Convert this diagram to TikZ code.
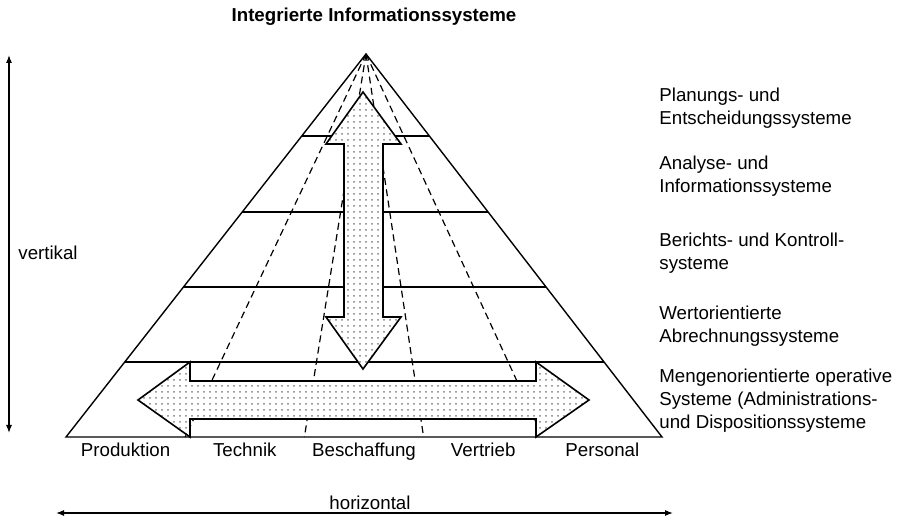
\documentclass[tikz,border=0pt]{standalone}
\usepackage{fontspec}
\setmainfont{Liberation Sans}
\usetikzlibrary{positioning,arrows.meta,calc,patterns}
\tikzset{
  txt/.style={inner sep=0pt, font=\fontsize{9.35}{11.5}\selectfont},
  lvl/.style={txt, anchor=west, align=left},
  col/.style={txt, anchor=base},
  edge/.style={line width=0.7pt},
  divider/.style={line width=0.6pt, dash pattern=on 3.5pt off 2.2pt},
  bigarrow/.style={line width=0.8pt, preaction={fill=white},
                   pattern=dots, pattern color=black!50},
  axis/.style={{Latex[length=4pt,width=3pt]}-{Latex[length=4pt,width=3pt]}, line width=0.6pt},
}

\begin{document}
\begin{tikzpicture}[x=0.5pt, y=-0.5pt]
  \useasboundingbox (0,0) rectangle (902,518);
  \coordinate (top) at (366,54);
  \coordinate (bl) at (66,437);
  \coordinate (br) at (662,437);
  % sectors
  \foreach \f in {0.2,0.4,0.6,0.8}
    \draw[divider] (top) -- ($(bl)!\f!(br)$);
  % levels
  \foreach \t in {0.214,0.413,0.608,0.804}
    \draw[edge] ($(top)!\t!(bl)$) -- ($(top)!\t!(br)$);
  \draw[edge] (top) -- (bl) -- (br) -- cycle;
  % vertical + horizontal integration
  \draw[bigarrow] (363,92) -- (401,144) -- (383,144) -- (383,317) -- (401,317)
    -- (363,369) -- (326,317) -- (344,317) -- (344,144) -- (326,144) -- cycle;
  \draw[bigarrow] (138,400) -- (190,362) -- (190,381) -- (536,381) -- (536,362)
    -- (589,400) -- (536,437) -- (536,419) -- (190,419) -- (190,437) -- cycle;

  \node[txt, font=\fontsize{9.35}{11.5}\selectfont\bfseries] (title) at (374,17)
    {Integrierte Informationssysteme};

  \node[lvl] (plan) at (659,108) {Planungs- und\\Entscheidungssysteme};
  \node[lvl] (anal) at (659,176) {Analyse- und\\Informationssysteme};
  \node[lvl] (ber) at (659,253) {Berichts- und Kontroll-\\systeme};
  \node[lvl] (wert) at (659,326) {Wertorientierte\\Abrechnungssysteme};
  \node[lvl] (meng) at (659,401) {Mengenorientierte operative\\Systeme (Administrations-\\und Dispositionssysteme};

  \node[col] (prod) at ($(bl)!0.1!(br)+(0,20)$) {Produktion};
  \node[col] (tech) at ($(bl)!0.3!(br)+(0,20)$) {Technik};
  \node[col] (besch) at ($(bl)!0.5!(br)+(0,20)$) {Beschaffung};
  \node[col] (vert) at ($(bl)!0.7!(br)+(0,20)$) {Vertrieb};
  \node[col] (pers) at ($(bl)!0.9!(br)+(0,20)$) {Personal};

  % axes
  \coordinate (vtop) at (9,55);
  \coordinate (vbot) at (9,433);
  \coordinate (hl) at (56,513);
  \coordinate (hr) at (673,513);
  \draw[axis] (vtop) -- (vbot);
  \draw[axis] (hl) -- (hr);
  \node[txt, anchor=west] (vlab) at (18,253) {vertikal};
  \node[txt, anchor=base] (hlab) at (370,510) {horizontal};
\end{tikzpicture}
\end{document}
